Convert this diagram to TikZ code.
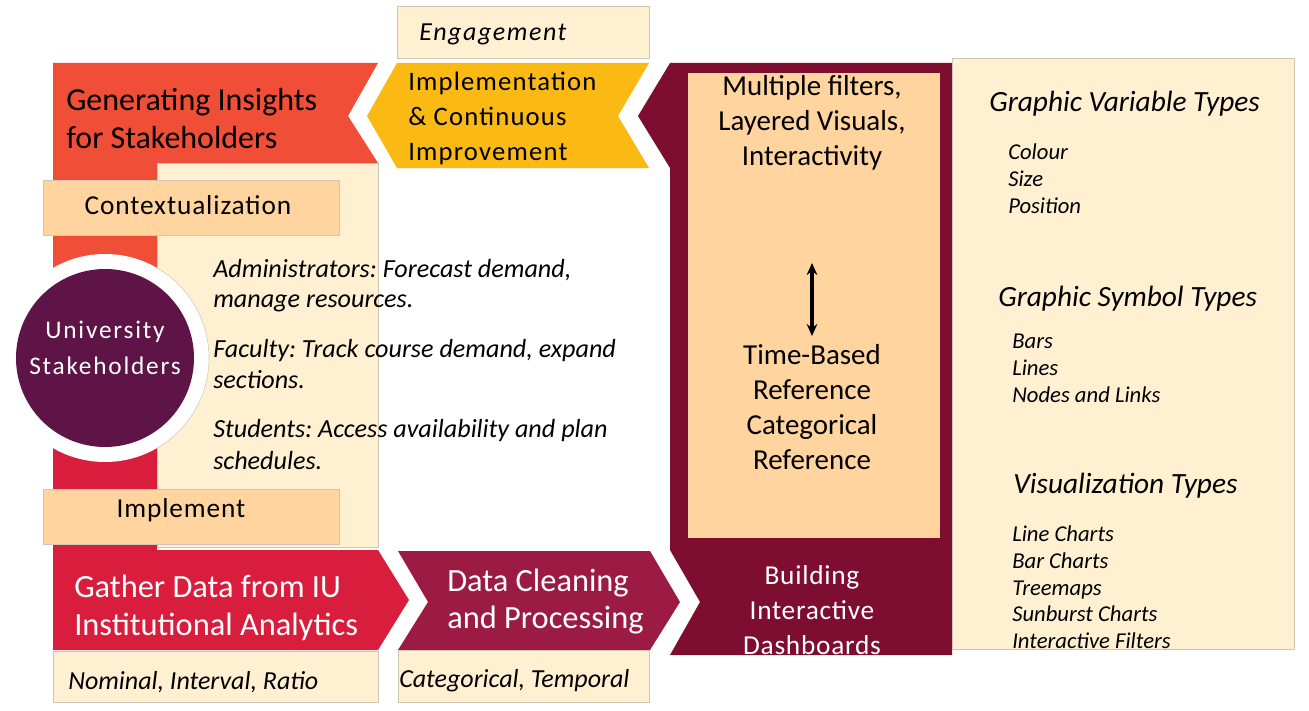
\documentclass[tikz,border=0pt]{standalone}
\usepackage{fontspec}
\setmainfont{Carlito}
\usetikzlibrary{arrows.meta}
\frenchspacing

\definecolor{insight}{HTML}{F04E37}
\definecolor{gather}{HTML}{D81E3C}
\definecolor{clean}{HTML}{9C1B42}
\definecolor{board}{HTML}{7D0E30}
\definecolor{gold}{HTML}{FBBA13}
\definecolor{peach}{HTML}{FFD49E}
\definecolor{cream}{HTML}{FFF0D2}
\definecolor{plum}{HTML}{5E1446}
\definecolor{rim}{HTML}{CFC6B6}

\newcommand\setsz[2]{\fontsize{#1}{#2}\selectfont}
\newcommand\track[1]{\addfontfeature{LetterSpace=#1}}

\tikzset{
  lineL/.style={inner sep=0pt, anchor=base west},
  lineC/.style={inner sep=0pt, anchor=base},
  panel/.style={fill=cream, draw=rim, line width=0.5pt},
  tag/.style={fill=peach, draw=rim, line width=0.5pt},
  big/.style={font=\setsz{24}{28}},
  huge/.style={font=\setsz{24.3}{29}},
  tagtext/.style={font={\setsz{20.5}{24}\track{3.2}}},
  steptext/.style={font={\setsz{20}{24}\track{4.5}}},
  boxtext/.style={font=\setsz{21.7}{25}},
  dashtext/.style={font={\setsz{20.5}{24}\track{2.7}}},
  disctext/.style={font={\setsz{19}{22}\track{7}}},
  note/.style={font=\itshape\setsz{19.5}{24}},
  engtext/.style={font={\itshape\setsz{19.5}{24}\track{6}}},
  body/.style={font=\itshape\setsz{19.6}{23}},
  head/.style={font=\itshape\setsz{22}{26}},
  item/.style={font=\itshape\setsz{17}{20}},
}

\begin{document}
\begin{tikzpicture}[x=0.75pt,y=-0.75pt]
\useasboundingbox (0,0) rectangle (1309,710);

% left column: insight banner (top) and data-gathering arrow (bottom)
\fill[insight] (53,63) -- (378,63) -- (348,116) -- (378,163) -- (157,163)
  -- (157,360) -- (53,360) -- cycle;
\fill[gather] (53,360) -- (157,360) -- (157,550) -- (378,550) -- (409,600)
  -- (378,650) -- (53,650) -- cycle;

% stakeholder panel
\draw[panel] (157,163) rectangle (378,547);

% stakeholder disc: white ring, thin rim where it meets the panel, plum core
\fill[white] (105,358) circle (104);
\draw[rim, line width=0.4pt] (105,358) ++(-60:104) arc[start angle=-60, end angle=60, radius=104];
\fill[plum] (105,358) circle (89);

% tags on the left column
\draw[tag] (43,180) rectangle (339,235);
\draw[tag] (43,489) rectangle (339,544);

% implementation chevron and engagement tag
\fill[gold] (397,63) -- (649,63) -- (618,116) -- (649,168) -- (397,168)
  -- (367,116) -- cycle;
\draw[panel] (397,6) rectangle (649,58);

% dashboard block
\fill[board] (670,63) -- (952,63) -- (952,655) -- (670,655) -- (700,602)
  -- (670,550) -- (670,168) -- (638,116) -- cycle;
\fill[peach] (688,73) rectangle (940,538);

% data cleaning chevron
\fill[clean] (398,551) -- (650,551) -- (680,602) -- (650,650) -- (398,650)
  -- (428,602) -- cycle;

% tags under the bottom row
\draw[panel] (53,651) rectangle (378,702);
\draw[panel] (398,650) rectangle (649,702);

% visual encoding panel
\draw[panel] (952,58) rectangle (1294,649);

% ---- texts ----
\node[lineL, big] (gi1) at (66,110) {Generating Insights};
\node[lineL, big] (gi2) at (66,148) {for Stakeholders};

\node[lineC, tagtext] (ctx) at (188,214) {Contextualization};
\node[lineC, tagtext] (impl) at (181,517) {Implement};

\node[lineC, disctext, text=white] (us1) at (105,338) {University};
\node[lineC, disctext, text=white] (us2) at (105,374) {Stakeholders};

\node[lineL, body] (adm1) at (213,277) {Administrators: Forecast demand,};
\node[lineL, body] (adm2) at (213,307) {manage resources.};
\node[lineL, body] (fac1) at (213,357) {Faculty: Track course demand, expand};
\node[lineL, body] (fac2) at (213,388) {sections.};
\node[lineL, body] (stu1) at (213,437) {Students: Access availability and plan};
\node[lineL, body] (stu2) at (213,469) {schedules.};

\node[lineL, huge, text=white] (ga1) at (74,597) {Gather Data from IU};
\node[lineL, huge, text=white] (ga2) at (74,635) {Institutional Analytics};
\node[lineL, note] (nom) at (68,689) {Nominal, Interval, Ratio};

\node[lineL, engtext] (eng) at (419,41) {Engagement};
\node[lineL, steptext] (imp1) at (408,90) {Implementation};
\node[lineL, steptext] (imp2) at (408,125) {\& Continuous};
\node[lineL, steptext] (imp3) at (408,160) {Improvement};

\node[lineL, huge, text=white] (dc1) at (447,591) {Data Cleaning};
\node[lineL, huge, text=white] (dc2) at (447,628) {and Processing};
\node[lineL, note] (cat) at (399,687) {Categorical, Temporal};

\node[lineC, boxtext] (mf1) at (812,95) {Multiple filters,};
\node[lineC, boxtext] (mf2) at (812,130) {Layered Visuals,};
\node[lineC, boxtext] (mf3) at (812,165) {Interactivity};

\coordinate (arTop) at (812,263);
\coordinate (arBot) at (812,336);
\draw[{Stealth[length=9pt,width=8pt]}-{Stealth[length=9pt,width=8pt]}, line width=2.3pt]
  (arTop) -- (arBot);

\node[lineC, boxtext] (tb1) at (812,364) {Time-Based};
\node[lineC, boxtext] (tb2) at (812,399) {Reference};
\node[lineC, boxtext] (tb3) at (812,434) {Categorical};
\node[lineC, boxtext] (tb4) at (812,469) {Reference};

\node[lineC, dashtext, text=white] (bd1) at (812,584) {Building};
\node[lineC, dashtext, text=white] (bd2) at (812,619) {Interactive};
\node[lineC, dashtext, text=white] (bd3) at (812,654) {Dashboards};

\node[lineL, head] (gvt) at (989,111) {Graphic Variable Types};
\node[lineL, item] (v1) at (1008,159) {Colour};
\node[lineL, item] (v2) at (1008,186) {Size};
\node[lineL, item] (v3) at (1008,213) {Position};

\node[lineL, head] (gst) at (998,306) {Graphic Symbol Types};
\node[lineL, item] (s1) at (1012,348) {Bars};
\node[lineL, item] (s2) at (1012,375) {Lines};
\node[lineL, item] (s3) at (1012,402) {Nodes and Links};

\node[lineL, head] (vt) at (1013,493) {Visualization Types};
\node[lineL, item] (t1) at (1012,541) {Line Charts};
\node[lineL, item] (t2) at (1012,568) {Bar Charts};
\node[lineL, item] (t3) at (1012,595) {Treemaps};
\node[lineL, item] (t4) at (1012,621) {Sunburst Charts};
\node[lineL, item] (t5) at (1012,648) {Interactive Filters};
\end{tikzpicture}
\end{document}
